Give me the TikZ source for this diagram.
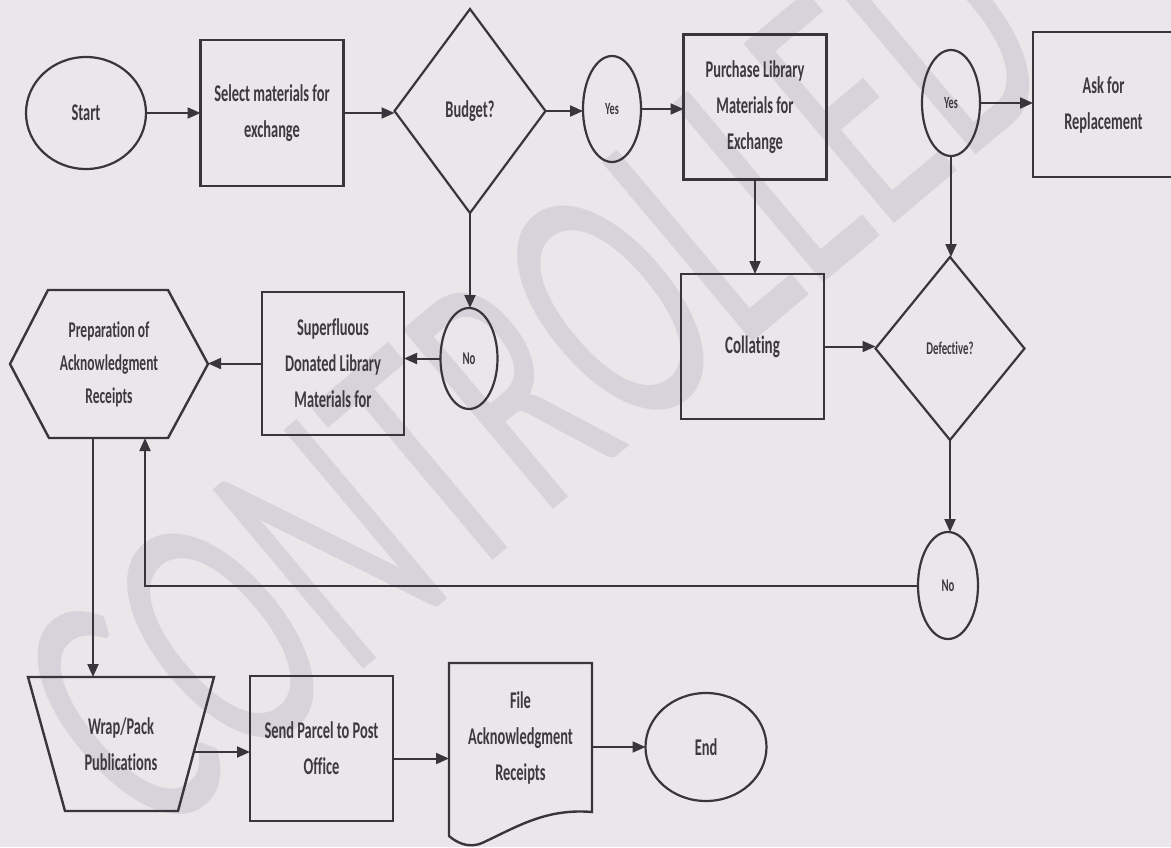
\documentclass[tikz,border=0pt]{standalone}
\usepackage{fontspec}
\setmainfont{Carlito}[FakeStretch=0.6,Ligatures=NoCommon]
\usetikzlibrary{arrows.meta,shapes.geometric}
\definecolor{bg}{RGB}{234,231,235}
\definecolor{ink}{RGB}{58,53,60}
\definecolor{txt}{RGB}{62,57,64}
\definecolor{wm}{RGB}{215,211,219}
\begin{document}
\begin{tikzpicture}[x=1pt,y=-1pt,
  every node/.style={text=txt,align=center,inner sep=0pt,outer sep=0pt},
  shp/.style={draw=ink,line width=2.4pt,line join=miter},
  box/.style={shp,rectangle},
  oval/.style={draw=ink,line width=2.2pt,ellipse},
  dia/.style={draw=ink,line width=2.2pt,diamond},
  ghost/.style={rectangle},
  big/.style={font=\fontsize{24}{36}\selectfont\bfseries},
  small/.style={font=\fontsize{17}{20}\selectfont\bfseries},
  mid/.style={font=\fontsize{18}{20}\selectfont\bfseries},
  arr/.style={draw=ink,line width=2pt,-{Triangle[length=13pt,width=11pt]}}
]
\fill[bg] (0,0) rectangle (1171,847);
\useasboundingbox (0,0) rectangle (1171,847);

% watermark
\node[text=wm,rotate=40,anchor=base,font=\fontsize{365}{365}\selectfont] (wmk) at (610,462) {CONTROLLED};

% nodes
\node[oval,big,minimum width=120,minimum height=112] (start) at (86,113) {Start};
\node[box,big,minimum width=143,minimum height=146] (sel) at (272,113) {Select materials for\\exchange};
\node[dia,big,minimum width=151,minimum height=204] (bud) at (470,111) {Budget?};
\node[oval,small,minimum width=58,minimum height=106] (yes1) at (612,109) {Yes};
\node[box,big,minimum width=143,minimum height=145] (pur) at (755,107) {Purchase Library\\Materials for\\Exchange};
\node[oval,small,minimum width=58,minimum height=106] (yes2) at (951,103) {Yes};
\node[box,big,minimum width=141,minimum height=145] (ask) at (1103.5,104.5) {Ask for\\Replacement};
\node[box,font=\fontsize{25}{30}\selectfont\bfseries,minimum width=143,minimum height=145] (col) at (752.5,346.5) {Collating};
\node[dia,mid,minimum width=149,minimum height=183] (def) at (950,348.5) {Defective?};
\node[oval,mid,minimum width=57,minimum height=101] (no1) at (469,358.5) {No};
\node[oval,mid,minimum width=60,minimum height=107] (no2) at (948,585.5) {No};
\node[box,big,minimum width=142,minimum height=143] (sup) at (333,363.5) {Superfluous\\Donated Library\\Materials for};
\node[ghost,font=\fontsize{22.5}{33}\selectfont\bfseries,minimum width=198,minimum height=148] (prep) at (109,364) {Preparation of\\Acknowledgment\\Receipts};
\node[ghost,big,minimum width=186,minimum height=134] (wrap) at (121,744) {Wrap/Pack\\Publications};
\node[box,big,minimum width=143,minimum height=145] (send) at (321.5,748.5) {Send Parcel to Post\\Office};
\node[ghost,big,minimum width=143,minimum height=149] (file) at (520.5,737.5) {File\\Acknowledgment\\Receipts};
\node[oval,big,minimum width=121,minimum height=108] (end) at (706,747) {End};

% custom outlines
\draw[shp] (prep.west) -- ([xshift=38]prep.north west) -- ([xshift=-40]prep.north east) -- (prep.east) -- ([xshift=-40]prep.south east) -- ([xshift=39]prep.south west) -- cycle;
\draw[shp] (wrap.north west) -- (wrap.north east) -- ([xshift=-36]wrap.south east) -- ([xshift=37]wrap.south west) -- cycle;
\draw[shp] ([yshift=-24]file.south west) -- (file.north west) -- (file.north east) -- (file.south east)
  .. controls (545,808) and (515,828) .. (482,843)
  .. controls (468,849) and (456,842) .. ([yshift=-24]file.south west) -- cycle;

% connectors
\draw[arr] (start.east) -- (sel.west);
\draw[arr] (sel.east) -- (sel.east -| bud.west);
\draw[arr] (bud.east) -- (bud.east -| yes1.west);
\draw[arr] (yes1.east) -- (yes1.east -| pur.west);
\draw[arr] (yes2.east) -- (yes2.east -| ask.west);
\draw[arr] (pur.south) -- (pur.south |- col.north);
\draw[arr] (yes2.south) -- (yes2.south |- def.north);
\draw[arr] (col.east) -- (col.east -| def.west);
\draw[arr] (def.south) -- (def.south |- no2.north);
\draw[arr] (bud.south) -- (bud.south |- no1.north);
\draw[arr] (no1.west) -- (no1.west -| sup.east);
\draw[arr] (sup.west) -- (sup.west -| prep.east);
\draw[arr] ([xshift=-16]prep.south) -- ([xshift=-16]prep.south |- wrap.north);
\draw[arr] (no2.west) -| ([xshift=36]prep.south);
\coordinate (wrapE) at (194,752);
\draw[arr] (wrapE) -- (wrapE -| send.west);
\draw[arr] ([yshift=-10]send.east) -- ([yshift=-10]send.east -| file.west);
\draw[arr] (end.west -| file.east) -- (end.west);
\end{tikzpicture}
\end{document}
